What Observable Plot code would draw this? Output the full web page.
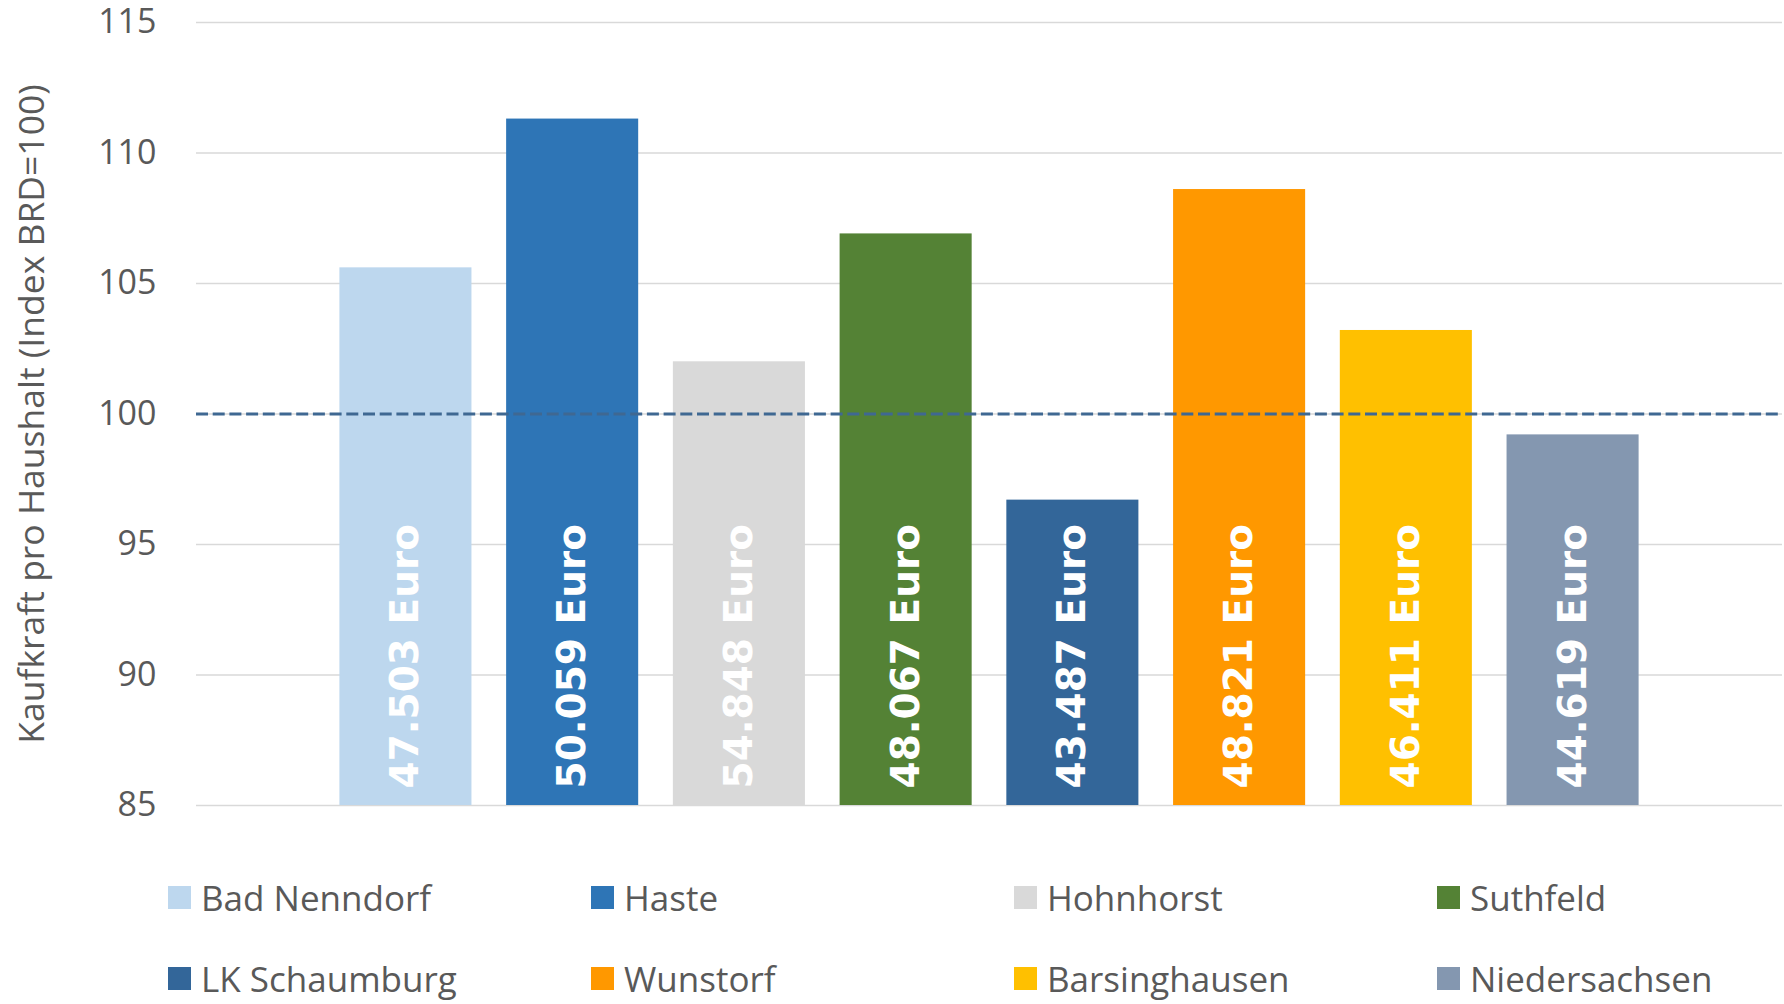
<!DOCTYPE html>
<html><head><meta charset="utf-8">
<script src="https://cdn.jsdelivr.net/npm/d3@7"></script>
<script src="https://cdn.jsdelivr.net/npm/@observablehq/plot@0.6"></script>
<style>
html,body{margin:0;padding:0;background:#fff;}
body{font-family:"Open Sans",sans-serif;width:1784px;height:1004px;overflow:hidden;}
#chart svg{display:block;}
#legend{display:grid;grid-template-columns:repeat(4,423px);margin-left:168px;padding-top:47px;row-gap:41px;}
.item{display:flex;align-items:center;height:40px;font-size:35px;color:#595959;white-space:nowrap;}
.sw{width:23px;height:23px;margin-right:10px;flex:none;}
</style></head><body>
<div id="chart"></div><div id="legend"></div>
<script>
const regions = ["Bad Nenndorf","Haste","Hohnhorst","Suthfeld","LK Schaumburg","Wunstorf","Barsinghausen","Niedersachsen"];
const indexValues = [105.6, 111.3, 102.0, 106.9, 96.7, 108.6, 103.2, 99.2];
const euroLabels = ["47.503 Euro","50.059 Euro","54.848 Euro","48.067 Euro","43.487 Euro","48.821 Euro","46.411 Euro","44.619 Euro"];
const colors = ["#bdd7ee","#2e75b6","#d9d9d9","#548235","#336699","#ff9800","#ffc000","#8497b0"];
const yTicks = [85, 90, 95, 100, 105, 110, 115];
const baseline = [100];
const yLabel = "Kaufkraft pro Haushalt (Index BRD=100)";

const data = regions.map((r, i) => ({region: r, value: indexValues[i], label: euroLabels[i]}));

const chart = Plot.plot({
  width: 1784, height: 830,
  marginTop: 22, marginBottom: 25, marginLeft: 196, marginRight: 2,
  style: {fontFamily: "Open Sans", fontSize: "34px", color: "#595959", background: "#fff", overflow: "visible"},
  x: {domain: regions, axis: null, paddingInner: 0.208, paddingOuter: 0.86, round: false},
  y: {domain: [85, 115]},
  color: {domain: regions, range: colors},
  marks: [
    Plot.ruleY(yTicks, {stroke: "#d9d9d9", strokeWidth: 1.5}),
    Plot.barY(data, {x: "region", y1: 85, y2: "value", fill: "region"}),
    Plot.ruleY(baseline, {stroke: "#3f6892", strokeWidth: 3.2, strokeDasharray: "12,4.7"}),
    Plot.text(data, {x: "region", y: 85, text: "label", rotate: -90, textAnchor: "start", dy: -17,
      fill: "white", fontWeight: "bold", fontFamily: "DejaVu Sans", fontSize: 39}),
    Plot.axisY({ticks: yTicks, tickSize: 0, tickPadding: 40, fontSize: 34, fill: "#595959", label: null}),
    Plot.axisY({ticks: [], tickSize: 0, fontSize: 35.5, fill: "#595959",
      label: yLabel, labelArrow: "none", labelAnchor: "center", labelOffset: 178})
  ]
});
document.getElementById("chart").append(chart);

const legend = document.getElementById("legend");
regions.forEach((name, i) => {
  const it = document.createElement("div"); it.className = "item";
  const sw = document.createElement("span"); sw.className = "sw"; sw.style.background = colors[i];
  const tx = document.createElement("span"); tx.textContent = name;
  it.append(sw, tx); legend.append(it);
});
</script>
</body></html>
